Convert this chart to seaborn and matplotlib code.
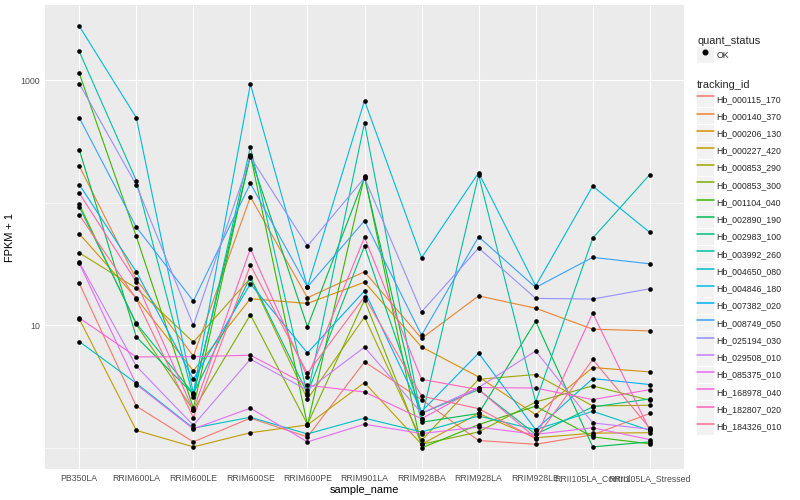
import numpy as np
import pandas as pd
import seaborn as sns
import matplotlib.pyplot as plt
from matplotlib.lines import Line2D
from matplotlib.patches import Rectangle
from matplotlib.legend_handler import HandlerLine2D
from matplotlib.ticker import FixedLocator, FixedFormatter, NullFormatter

# sample order on the x axis
samples = ['PB350LA', 'RRIM600LA', 'RRIM600LE', 'RRIM600SE', 'RRIM600PE',
           'RRIM901LA', 'RRIM928BA', 'RRIM928LA', 'RRIM928LE',
           'RRII105LA_Control', 'RRII105LA_Stressed']

# FPKM + 1 per gene, one value per sample
hb_000115_170 = [22.1, 2.19, 1.12, 1.75, 1.23, 5.04, 2.48, 1.15, 1.07, 1.28, 1.91]
hb_000140_370 = [200, 23.8, 5.60, 112, 16.8, 27.4, 7.82, 17.4, 13.8, 9.31, 9.02]
hb_000206_130 = [56.0, 16.7, 4.25, 16.5, 15.1, 22.5, 6.67, 3.80, 1.87, 4.53, 4.17]
hb_000227_420 = [11.3, 1.39, 1.02, 1.33, 1.54, 3.41, 1.07, 1.91, 1.21, 1.32, 1.33]
hb_000853_290 = [39.1, 20.1, 7.29, 24.3, 2.50, 11.7, 1.15, 3.63, 3.97, 2.20, 2.23]
hb_000853_300 = [97.7, 10.2, 2.03, 12.2, 1.56, 16.1, 1.07, 1.35, 2.37, 3.21, 2.45]
hb_001104_040 = [1143, 53.2, 2.12, 246, 1.54, 166, 1.00, 1.55, 2.19, 1.23, 1.08]
hb_002890_190 = [272, 8.05, 2.74, 240, 9.73, 161, 1.62, 1.91, 10.8, 1.02, 1.12]
hb_002983_100 = [92.9, 10.4, 2.77, 24.8, 2.79, 44.4, 1.92, 2.99, 1.29, 2.16, 2.51]
hb_003992_260 = [1720, 152, 2.59, 286, 2.69, 449, 1.73, 169, 2.37, 51.5, 170]
hb_004650_080 = [7.38, 3.37, 1.45, 1.78, 1.30, 1.75, 1.35, 1.82, 1.41, 1.99, 1.39]
hb_004846_180 = [2770, 496, 2.79, 929, 20.6, 682, 35.6, 176, 21.0, 137, 57.4]
hb_007382_020 = [141, 27.4, 3.63, 21.8, 5.96, 19.1, 1.98, 5.93, 1.41, 3.68, 3.29]
hb_008749_050 = [496, 63.4, 15.8, 144, 20.6, 71.4, 8.32, 52.8, 20.4, 35.9, 31.8]
hb_025194_030 = [940, 140, 10.0, 237, 44.4, 160, 12.9, 42.8, 16.6, 16.4, 19.9]
hb_029508_010 = [32.8, 4.65, 1.53, 5.30, 2.96, 6.64, 1.92, 3.11, 6.19, 1.60, 1.42]
hb_085375_010 = [32.2, 3.29, 1.43, 2.11, 1.12, 1.56, 1.31, 1.48, 1.29, 1.46, 1.17]
hb_168978_040 = [11.5, 5.53, 5.55, 5.71, 3.25, 2.86, 1.73, 3.11, 3.08, 2.48, 2.99]
hb_182807_020 = [120, 22.6, 2.03, 42.2, 3.78, 52.2, 3.63, 2.99, 1.21, 12.6, 1.39]
hb_184326_010 = [80.0, 16.4, 1.77, 31.0, 4.07, 17.1, 2.65, 2.09, 1.19, 5.27, 1.45]

tracking_ids = ['Hb_000115_170', 'Hb_000140_370', 'Hb_000206_130', 'Hb_000227_420',
                'Hb_000853_290', 'Hb_000853_300', 'Hb_001104_040', 'Hb_002890_190',
                'Hb_002983_100', 'Hb_003992_260', 'Hb_004650_080', 'Hb_004846_180',
                'Hb_007382_020', 'Hb_008749_050', 'Hb_025194_030', 'Hb_029508_010',
                'Hb_085375_010', 'Hb_168978_040', 'Hb_182807_020', 'Hb_184326_010']
series = [hb_000115_170, hb_000140_370, hb_000206_130, hb_000227_420,
          hb_000853_290, hb_000853_300, hb_001104_040, hb_002890_190,
          hb_002983_100, hb_003992_260, hb_004650_080, hb_004846_180,
          hb_007382_020, hb_008749_050, hb_025194_030, hb_029508_010,
          hb_085375_010, hb_168978_040, hb_182807_020, hb_184326_010]

# ggplot2 default hue palette for 20 levels
hue_colors = ['#F8766D', '#EA8331', '#D89000', '#C09B00', '#A3A500', '#7CAE00',
              '#39B600', '#00BB4E', '#00BF7D', '#00C1A3', '#00BFC4', '#00BAE0',
              '#00B0F6', '#35A2FF', '#9590FF', '#C77CFF', '#E76BF3', '#FA62DB',
              '#FF62BC', '#FF6C91']

rows = []
for tid, vals in zip(tracking_ids, series):
    for s, v in zip(samples, vals):
        rows.append({'tracking_id': tid, 'sample_name': s, 'fpkm': v})
df = pd.DataFrame(rows)

sns.set_theme(style='darkgrid')
plt.rcParams['font.family'] = ['Liberation Sans', 'DejaVu Sans']

fig, ax = plt.subplots(figsize=(8, 5), dpi=100)
fig.subplots_adjust(left=45/800, right=684/800, bottom=31/500, top=495/500)
ax.set_facecolor('#EBEBEB')

sns.lineplot(data=df, x='sample_name', y='fpkm', hue='tracking_id',
             palette=dict(zip(tracking_ids, hue_colors)), estimator=None,
             sort=False, linewidth=0.8, legend=False, ax=ax)
sns.scatterplot(data=df, x='sample_name', y='fpkm', color='black', s=11,
                linewidth=0, legend=False, ax=ax, zorder=5)

# log scale with ggplot-like 5% expansion
ax.set_yscale('log')
lmin = np.log10(df['fpkm'].min())
lmax = np.log10(df['fpkm'].max())
pad = 0.05 * (lmax - lmin)
ax.set_ylim(10 ** (lmin - pad), 10 ** (lmax + pad))
ax.set_xlim(-0.6, len(samples) - 0.4)

ax.yaxis.set_major_locator(FixedLocator([10, 1000]))
ax.yaxis.set_major_formatter(FixedFormatter(['10', '1000']))
ax.yaxis.set_minor_locator(FixedLocator([1, 100]))
ax.yaxis.set_minor_formatter(NullFormatter())

ax.grid(which='major', color='white', linewidth=0.8)
ax.grid(which='minor', axis='y', color='white', linewidth=0.4)
ax.set_axisbelow(True)
for sp in ax.spines.values():
    sp.set_visible(False)

ax.tick_params(which='major', length=2.2, width=0.6, color='#333333',
               labelsize=6.3, labelcolor='#4D4D4D', pad=1.5)
ax.tick_params(which='minor', length=0)
ax.set_xlabel('sample_name', fontsize=7.9, color='black', labelpad=1)
ax.set_ylabel('FPKM + 1', fontsize=7.9, color='black', labelpad=4)


class BoxedHandler(HandlerLine2D):
    # legend key with ggplot-style grey box behind it
    def create_artists(self, legend, orig_handle, xdescent, ydescent,
                       width, height, fontsize, trans):
        box = Rectangle((-xdescent, -ydescent), width, height,
                        facecolor='#F2F2F2', edgecolor='none', transform=trans)
        arts = super().create_artists(legend, orig_handle, xdescent, ydescent,
                                      width, height, fontsize, trans)
        return [box] + list(arts)


legend_kw = dict(loc='upper left', frameon=False, borderpad=0, borderaxespad=0,
                 handlelength=1.9, handleheight=2.5, handletextpad=0.35,
                 labelspacing=0.1, fontsize=6.3, title_fontsize=7.9,
                 alignment='left', numpoints=1,
                 handler_map={Line2D: BoxedHandler()})

ok_handle = Line2D([], [], marker='o', color='black', linestyle='none',
                   markersize=3.3)
fig.legend(handles=[ok_handle], labels=['OK'], title='quant_status',
           bbox_to_anchor=(697/800, 1 - 36/500), **legend_kw)

line_handles = [Line2D([], [], color=c, linewidth=1.1) for c in hue_colors]
fig.legend(handles=line_handles, labels=tracking_ids, title='tracking_id',
           bbox_to_anchor=(697/800, 1 - 80/500), **legend_kw)

plt.savefig('out.png', dpi=100)
